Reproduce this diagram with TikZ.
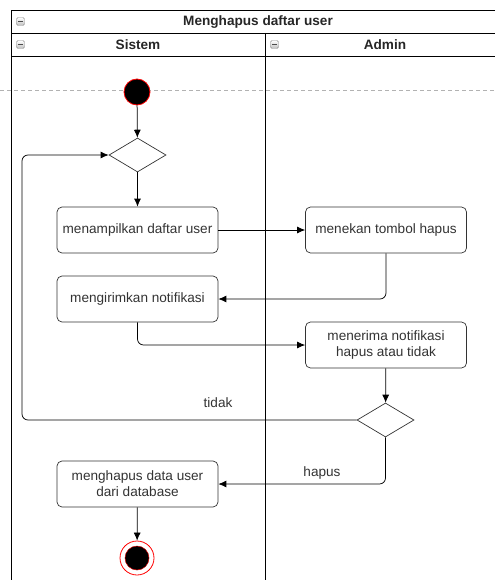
\documentclass[tikz,border=0pt]{standalone}
\usepackage{fontspec}
\setmainfont{Liberation Sans}
\usetikzlibrary{shapes.geometric,arrows.meta}
\begin{document}
\begin{tikzpicture}[x=1pt,y=-1pt,
  font=\fontsize{13.6}{16}\selectfont,
  lane/.style={draw=black,line width=0.9pt},
  head/.style={font=\bfseries\fontsize{13.6}{16}\selectfont,text=black!85},
  act/.style={draw=black!80,rounded corners=5pt,minimum width=161pt,minimum height=46pt,align=center,inner sep=2pt,text=black!80,line width=0.7pt},
  choice/.style={draw=black!80,diamond,aspect=1.65,minimum width=57pt,minimum height=34pt,inner sep=0pt,line width=0.7pt},
  flow/.style={-{Latex[length=8pt,width=7pt]},draw=black,line width=0.75pt,rounded corners=6pt},
  lbl/.style={text=black!80,inner sep=1pt},
  icon/.style={draw=black!45,top color=white,bottom color=black!25,rounded corners=1.5pt,minimum size=8pt,inner sep=0pt,
    path picture={\draw[black!70,line width=1pt] ([xshift=-2.3pt]path picture bounding box.center) -- ([xshift=2.3pt]path picture bounding box.center);}}
]
\useasboundingbox (0,0) rectangle (495,580);

% swimlane frame
\draw[lane] (495,10) -- (11,10) -- (11,580);
\draw[lane] (11,33) -- (495,33);
\draw[lane] (11,56) -- (495,56);
\draw[lane] (265,33) -- (265,580);
\node[head] (title) at (258,22) {Menghapus daftar user};
\node[head] (laneA) at (138,45) {Sistem};
\node[head] (laneB) at (385,45) {Admin};
\node[icon] (ic1) at (20.5,21.5) {};
\node[icon] (ic2) at (20.5,44.5) {};
\node[icon] (ic3) at (274.5,44.5) {};

% page break guide
\draw[black!30,dashed,dash pattern=on 4pt off 3pt,line width=0.6pt] (0,90) -- (495,90);

% start and end
\node[circle,fill=black,draw=red,line width=0.8pt,minimum size=26pt,inner sep=0pt] (start) at (137,92) {};
\node[circle,draw=red,line width=0.8pt,fill=white,minimum size=34pt,inner sep=0pt] (stop) at (137,558) {};
\node[circle,fill=black,draw=red!80!black,line width=0.5pt,minimum size=24pt,inner sep=0pt] (stopin) at (137,558) {};

% decisions
\node[choice] (d1) at (137.5,155) {};
\node[choice] (d2) at (385.5,420) {};

% activities
\node[act] (show) at (137.5,230) {menampilkan daftar user};
\node[act] (press) at (386,230) {menekan tombol hapus};
\node[act] (notify) at (137.5,299) {mengirimkan notifikasi};
\node[act] (recv) at (386,345) {menerima notifikasi\\hapus atau tidak};
\node[act] (del) at (137.5,484) {menghapus data user\\dari database};

% flows
\draw[flow] (start) -- (d1);
\draw[flow] (d1) -- (show);
\draw[flow] (show) -- (press);
\draw[flow] (press.south) |- (notify.east);
\draw[flow] (notify.south) |- (recv.west);
\draw[flow] (recv) -- (d2);
\draw[flow] (d2.west) -- (22,420) -- (22,155) -- (d1.west);
\draw[flow] (d2.south) |- (del.east);
\draw[flow] (del) -- (stop);
\node[lbl] (tno) at (218,403) {tidak};
\node[lbl] (tyes) at (322,473) {hapus};
\end{tikzpicture}
\end{document}
